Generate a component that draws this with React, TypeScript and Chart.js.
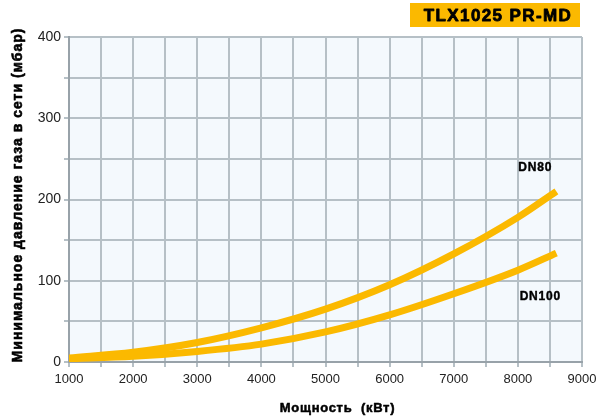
import React, { useEffect, useRef } from "react";
import { Chart, registerables } from "chart.js";

Chart.register(...registerables);

const power = [1000, 2000, 3000, 4000, 5000, 6000, 7000, 8000, 8600];
const dn80 = [5, 12, 24, 42, 65, 95, 133, 178, 210];
const dn100 = [4, 7, 13, 22, 37, 58, 84, 113, 134];
const seriesLabels = ["DN80", "DN100"];
const labelPos = [
  { x: 8270, y: 239 },
  { x: 8350, y: 81 },
];
const titleText = "TLX1025 PR-MD";
const xTitle = "Мощность  (кВт)";
const yTitle = "Минимальное давление газа в сети (мбар)";

const FONT = "Arial, 'Liberation Sans', sans-serif";
const ORANGE = "#FBB900";
const GRID = "#b6c0c6";
const AXIS = "#98a2a9";

function heavyText(ctx: any, t: string, x: number, y: number, w: number, spacing: number) {
  ctx.letterSpacing = `${spacing}px`;
  ctx.lineWidth = w;
  ctx.strokeStyle = "#000";
  ctx.lineJoin = "round";
  ctx.strokeText(t, x, y);
  ctx.fillText(t, x, y);
  ctx.letterSpacing = "0px";
}

export default function App() {
  const ref = useRef<HTMLCanvasElement | null>(null);
  useEffect(() => {
    if (!ref.current) return;
    const overlay = {
      id: "overlay",
      beforeDraw(chart: any) {
        const { ctx, chartArea } = chart;
        ctx.save();
        ctx.fillStyle = "#f4f9fd";
        ctx.fillRect(chartArea.left, chartArea.top, chartArea.right - chartArea.left, chartArea.bottom - chartArea.top);
        ctx.restore();
      },
      afterDraw(chart: any) {
        const { ctx, scales, chartArea } = chart;
        ctx.save();
        ctx.fillStyle = ORANGE;
        ctx.fillRect(410, 3, 170, 24);
        ctx.fillStyle = "#000";
        ctx.textAlign = "center";
        ctx.textBaseline = "middle";
        ctx.font = `bold 17px ${FONT}`;
        heavyText(ctx, titleText, 498, 16, 0.8, 1.4);
        ctx.font = `bold 12px ${FONT}`;
        seriesLabels.forEach((t, i) => {
          heavyText(ctx, t, scales.x.getPixelForValue(labelPos[i].x), scales.y.getPixelForValue(labelPos[i].y), 0.4, 0.8);
        });
        ctx.font = `bold 13px ${FONT}`;
        heavyText(ctx, xTitle, (chartArea.left + chartArea.right) / 2 + 12, 408, 0.5, 0.7);
        ctx.translate(18, 195);
        ctx.rotate(-Math.PI / 2);
        ctx.font = `bold 14px ${FONT}`;
        heavyText(ctx, yTitle, 0, 0, 0.6, 1);
        ctx.restore();
      },
    };
    const chart = new Chart(ref.current, {
      type: "line",
      data: {
        labels: power,
        datasets: [
          { label: seriesLabels[0], data: power.map((p, i) => ({ x: p, y: dn80[i] })) },
          { label: seriesLabels[1], data: power.map((p, i) => ({ x: p, y: dn100[i] })) },
        ].map((d) => ({
          ...d,
          borderColor: ORANGE,
          borderWidth: 7,
          pointRadius: 0,
          cubicInterpolationMode: "monotone" as const,
          fill: false,
        })),
      },
      options: {
        animation: false,
        responsive: false,
        layout: { padding: { top: 37, right: 25, left: 0, bottom: 0 } },
        plugins: { legend: { display: false }, tooltip: { enabled: false }, title: { display: false } },
        scales: {
          x: {
            type: "linear",
            min: 1000,
            max: 9000,
            afterFit: (s: any) => { s.height = 57; },
            ticks: {
              stepSize: 500,
              autoSkip: false,
              maxRotation: 0,
              color: "#222",
              font: { family: FONT, size: 13 },
              padding: 5,
              callback: (v: any) => (v % 1000 === 0 ? String(v) : ""),
            },
            grid: { color: GRID, lineWidth: 2, tickLength: 5, drawTicks: true },
            border: { color: AXIS, width: 2 },
          },
          y: {
            type: "linear",
            min: 0,
            max: 400,
            afterFit: (s: any) => { s.width = 69; },
            ticks: {
              stepSize: 50,
              autoSkip: false,
              color: "#222",
              font: { family: FONT, size: 14 },
              padding: 3,
              callback: (v: any) => (v % 100 === 0 ? String(v) : ""),
            },
            grid: { color: GRID, lineWidth: 2, tickLength: 5 },
            border: { color: AXIS, width: 2 },
          },
        },
      },
      plugins: [overlay],
    });
    return () => chart.destroy();
  }, []);
  return (
    <div style={{ position: "fixed", left: 0, top: 0, width: 607, height: 419, background: "#fff" }}>
      <canvas ref={ref} width={607} height={419} style={{ width: 607, height: 419, display: "block" }} />
    </div>
  );
}
